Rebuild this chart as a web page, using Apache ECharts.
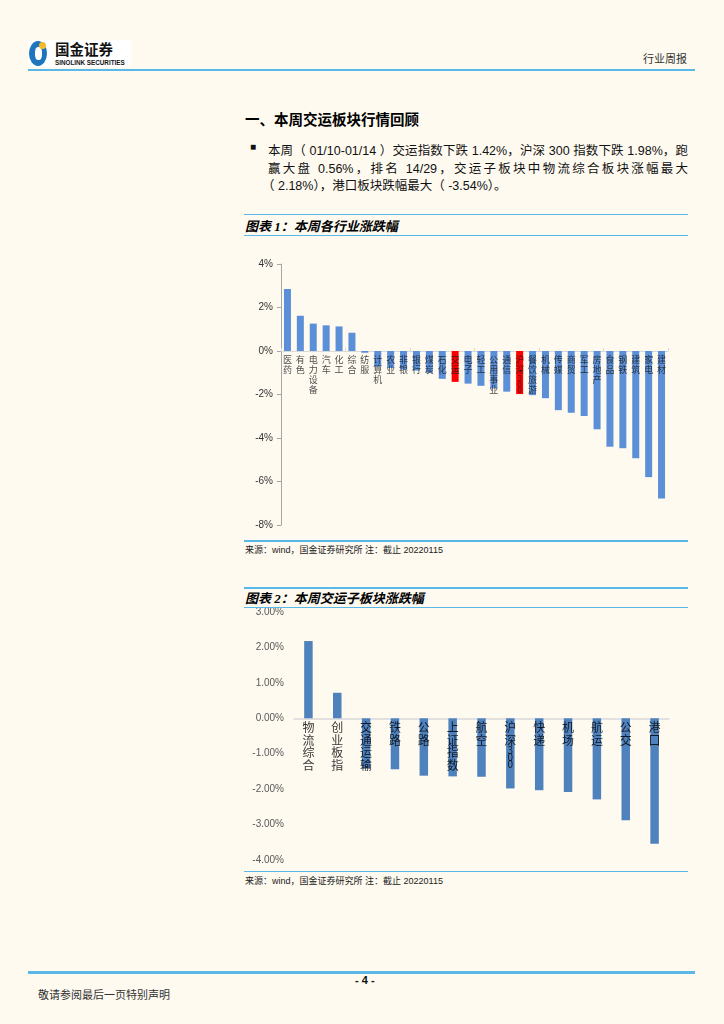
<!DOCTYPE html>
<html><head><meta charset="utf-8">
<script src="https://cdn.jsdelivr.net/npm/echarts@6/dist/echarts.min.js"></script>
<style>
html,body{margin:0;padding:0;background:#fefaf0;}
#page{position:relative;width:724px;height:1024px;background:#fefaf0;overflow:hidden;font-family:"Liberation Sans","Noto Sans CJK SC",sans-serif;color:#111;}
.abs{position:absolute;white-space:nowrap;}
.hline{position:absolute;background:#5ab8e8;}
.ctitle{position:absolute;font-weight:bold;font-style:italic;font-size:13px;font-family:"Liberation Serif","Noto Sans CJK SC",serif;color:#000;}
.src{position:absolute;font-size:9px;color:#222;font-family:"Liberation Sans","Noto Sans CJK SC",sans-serif;}
.pline{position:absolute;left:268px;width:420px;font-size:12.5px;text-align:justify;text-align-last:justify;white-space:nowrap;color:#111;}
</style></head>
<body>
<div id="page">
  <!-- header -->
  <div class="abs" style="left:28px;top:40px;width:103px;height:27px;background:#fff;"></div>
  <div class="abs" style="left:29px;top:41px;width:18px;height:25px;border-radius:50%;background:#1f75bd;"></div>
  <div class="abs" style="left:35px;top:47px;width:7px;height:13px;border-radius:40%;background:#fff;"></div>
  <div class="abs" style="left:39px;top:42px;width:7px;height:7px;border-radius:50%;background:#f5b92b;"></div>
  <div class="abs" style="left:55px;top:39px;font-size:14.5px;font-weight:bold;font-family:'Noto Sans CJK SC';color:#111;line-height:19px;">国金证券</div>
  <div class="abs" style="left:55px;top:59px;font-size:6.3px;font-weight:bold;color:#111;line-height:7px;">SINOLINK SECURITIES</div>
  <div class="abs" style="left:643px;top:50px;font-size:11px;color:#333;font-family:'Noto Sans CJK SC';">行业周报</div>
  <div class="hline" style="left:28px;top:68.5px;width:667px;height:2.5px;"></div>

  <div class="abs" style="left:245px;top:108px;font-size:14.5px;font-weight:bold;font-family:'Noto Sans CJK SC';color:#000;">一、本周交运板块行情回顾</div>
  <div class="abs" style="left:250px;top:141px;font-size:10px;">■</div>
  <div class="pline" style="top:140px;">本周（ 01/10-01/14 ）交运指数下跌 1.42%，沪深 300 指数下跌 1.98%，跑</div>
  <div class="pline" style="top:158px;">赢大盘 0.56%，排名 14/29，交运子板块中物流综合板块涨幅最大</div>
  <div class="abs" style="left:262px;top:175px;font-size:12.5px;">（ 2.18%），港口板块跌幅最大（ -3.54%）。</div>

  <!-- chart 1 -->
  <div class="hline" style="left:244px;top:213.5px;width:444px;height:1.5px;"></div>
  <div class="ctitle" style="left:245px;top:216px;">图表 1：本周各行业涨跌幅</div>
  <div class="hline" style="left:244px;top:234.5px;width:444px;height:1.5px;"></div>
  <div id="c1" class="abs" style="left:240px;top:250px;width:450px;height:288px;"></div>
  <div class="hline" style="left:244px;top:540px;width:444px;height:1.5px;"></div>
  <div class="src" style="left:245px;top:543px;">来源：wind，国金证券研究所 注：截止 20220115</div>

  <!-- chart 2 -->
  <div class="hline" style="left:244px;top:587px;width:444px;height:1.5px;"></div>
  <div class="ctitle" style="left:245px;top:588px;">图表 2：本周交运子板块涨跌幅</div>
  <div class="hline" style="left:244px;top:606.5px;width:444px;height:1.5px;"></div>
  <div id="c2" class="abs" style="left:240px;top:608px;width:450px;height:262px;"></div>
  <div class="hline" style="left:244px;top:870.5px;width:444px;height:1.5px;"></div>
  <div class="src" style="left:245px;top:874px;">来源：wind，国金证券研究所 注：截止 20220115</div>

  <!-- footer -->
  <div class="hline" style="left:28px;top:971px;width:667px;height:2.5px;"></div>
  <div class="abs" style="left:355px;top:974px;font-size:11px;font-weight:bold;">- 4 -</div>
  <div class="abs" style="left:38px;top:986px;font-size:11px;color:#333;font-family:'Noto Sans CJK SC';">敬请参阅最后一页特别声明</div>
</div>
<script>
// ---- data: chart 1 (industry weekly change, %) ----
var industries = ['医药','有色','电力设备','汽车','化工','综合','纺服','计算机','农业','非银','银行','煤炭','石化','交运','电子','轻工','公用事业','通信','沪深300','餐饮旅游','机械','传媒','商贸','军工','房地产','食品','钢铁','建筑','家电','建材'];
var industryChange = [2.85,1.62,1.26,1.18,1.13,0.84,-0.08,-0.72,-0.78,-0.85,-0.9,-1.0,-1.28,-1.42,-1.5,-1.6,-1.72,-1.87,-1.98,-2.03,-2.17,-2.72,-2.84,-2.99,-3.6,-4.4,-4.47,-4.93,-5.8,-6.78];
var highlight1 = ['交运','沪深300'];
var yTicks1 = {min:-8, max:4, interval:2};

// ---- data: chart 2 (transport sub-sectors, %) ----
var sectors = ['物流综合','创业板指','交通运输','铁路','公路','上证指数','航空','沪深300','快递','机场','航运','公交','港口'];
var sectorChange = [2.18,0.72,-1.42,-1.44,-1.62,-1.64,-1.65,-1.98,-2.03,-2.08,-2.29,-2.88,-3.54];
var yTicks2 = {min:-4, max:3, interval:1};

function stackLabel(v){
  if(v==='沪深300') return '沪\n深\n{d|3}\n{d|0}\n{d|0}';
  return v.split('').join('\n');
}
// label anchors sit on the zero line, one per category
function zeroAnchors(cats){ return cats.map(function(c){ return [c, 0]; }); }

var c1 = echarts.init(document.getElementById('c1'));
c1.setOption({
  animation:false,
  grid:{left:41,top:14,width:387,height:261,outerBoundsMode:'none',containLabel:false},
  xAxis:{type:'category',data:industries,
    axisLine:{onZero:true,lineStyle:{color:'#d9d9d9',width:1}},
    axisTick:{show:true,inside:true,length:3,lineStyle:{color:'#d9d9d9'}},
    axisLabel:{show:false}},
  yAxis:{type:'value',min:yTicks1.min,max:yTicks1.max,interval:yTicks1.interval,
    axisLine:{show:true,lineStyle:{color:'#a6a6a6'}},
    axisTick:{show:true,length:4,lineStyle:{color:'#a6a6a6'}},
    splitLine:{show:false},
    axisLabel:{formatter:'{value}%',fontSize:10,color:'#333',margin:8,fontFamily:'Liberation Sans'}},
  series:[{type:'bar',barWidth:7,z:1,
    data:industryChange.map(function(v,i){return {value:v,itemStyle:{color:highlight1.indexOf(industries[i])>=0?'#ff0000':'#5b8fd8'}};})
  },{type:'scatter',symbolSize:0,z:5,silent:true,data:zeroAnchors(industries),
    label:{show:true,position:'bottom',distance:4,fontSize:9,lineHeight:10,color:'#1a1a1a',fontFamily:'Noto Sans CJK SC',
      formatter:function(p){return stackLabel(p.value[0]);},rich:{d:{fontSize:8,lineHeight:6,color:'#1a1a1a'}}}}]
});

var c2 = echarts.init(document.getElementById('c2'));
c2.setOption({
  animation:false,
  grid:{left:54,top:4,width:375,height:248,outerBoundsMode:'none',containLabel:false},
  xAxis:{type:'category',data:sectors,
    axisLine:{onZero:true,lineStyle:{color:'#d9d9d9',width:1.5}},
    axisTick:{show:false},
    axisLabel:{show:false}},
  yAxis:{type:'value',min:yTicks2.min,max:yTicks2.max,interval:yTicks2.interval,
    axisLine:{show:false},axisTick:{show:false},splitLine:{show:false},
    axisLabel:{formatter:function(v){return v.toFixed(2)+'%';},fontSize:10,color:'#595959',margin:10,fontFamily:'Liberation Sans'}},
  series:[{type:'bar',barWidth:8.5,data:sectorChange,itemStyle:{color:'#4f81bd'}},
    {type:'scatter',symbolSize:0,z:5,silent:true,data:zeroAnchors(sectors),
    label:{show:true,position:'bottom',distance:3,fontSize:12,lineHeight:12.5,color:'#000',fontFamily:'Noto Sans CJK SC',
      formatter:function(p){return stackLabel(p.value[0]);},rich:{d:{fontSize:10,lineHeight:7,color:'#000'}}}}]
});
</script>
</body></html>
